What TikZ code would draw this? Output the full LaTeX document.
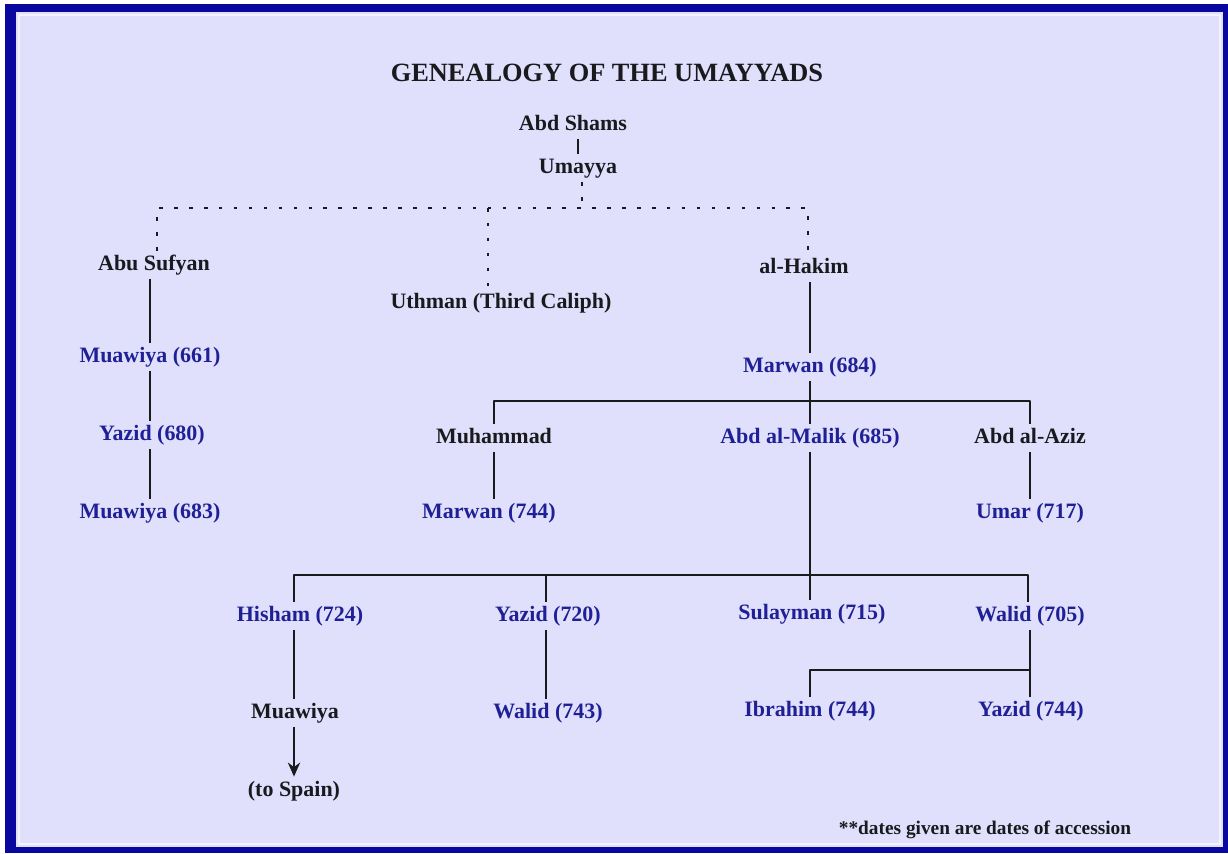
\documentclass[tikz,border=0pt]{standalone}
\usepackage{fontspec}
\setmainfont{Liberation Serif}
\usepackage{xcolor}
\usetikzlibrary{arrows.meta}

\definecolor{frameblue}{RGB}{8,8,158}
\definecolor{lavender}{RGB}{224,224,252}
\definecolor{kingblue}{RGB}{32,32,150}
\definecolor{inkgray}{RGB}{25,25,30}

\begin{document}
\begin{tikzpicture}[x=0.02cm, y=-0.02cm, line join=round,
  person/.style={font=\bfseries\fontsize{12.5}{14}\selectfont, text=inkgray,
    inner sep=2pt, text height=9pt, text depth=3pt},
  caliph/.style={person, text=kingblue},
  tie/.style={inkgray, line width=1pt},
  loosetie/.style={inkgray, line width=1.1pt, dash pattern=on 2pt off 6.5pt}]
% Frame and background
\fill[white] (0,0) rectangle (1228,853);
\fill[frameblue] (5,4) rectangle (1228,853);
\fill[lavender] (16,12) rectangle (1223,847);
\draw[white!60!lavender, line width=1.5pt] (19,15) rectangle (1220,844);
\useasboundingbox (0,0) rectangle (1228,853);
% Title
\node[font=\bfseries\fontsize{15}{18}\selectfont, text=inkgray] (title) at (607,73) {GENEALOGY OF THE UMAYYADS};
% Ancestors
\node[person] (abdshams) at (573,125) {Abd Shams};
\node[person] (umayya) at (578,168) {Umayya};
\draw[tie] (abdshams.south -| umayya) -- (umayya.north);
% Dotted branch points
\coordinate (dotL) at (157,208);
\coordinate (dotC) at (582,208);
\coordinate (dotM) at (488,208);
\coordinate (dotR) at (808,208);
% Sons of Umayya
\node[person] (abusufyan) at (154,265) {Abu Sufyan};
\node[person] (uthman) at (501,303) {Uthman (Third Caliph)};
\node[person] (alhakim) at (804,268) {al-Hakim};
\draw[loosetie] (umayya.south -| dotC) -- (dotC);
\draw[loosetie] (dotL |- abusufyan.north) -- (dotL) -- (dotR) -- (dotR |- alhakim.north);
\draw[loosetie] (dotM) -- (dotM |- uthman.north);
% Sufyanid line
\node[caliph] (muawiyaA) at (150,357) {Muawiya (661)};
\node[caliph] (yazidA) at (152,435) {Yazid (680)};
\node[caliph] (muawiyaB) at (150,513) {Muawiya (683)};
\draw[tie] (abusufyan.south -| muawiyaA) -- (muawiyaA.north);
\draw[tie] (muawiyaA.south) -- (muawiyaA.south |- yazidA.north);
\draw[tie] (muawiyaA.south |- yazidA.south) -- (muawiyaA.south |- muawiyaB.north);
% Marwanid line
\node[caliph] (marwanA) at (810,367) {Marwan (684)};
\draw[tie] (alhakim.south -| marwanA) -- (marwanA.north);
\node[person] (muhammad) at (494,438) {Muhammad};
\node[caliph] (abdalmalik) at (810,438) {Abd al-Malik (685)};
\node[person] (abdalaziz) at (1030,438) {Abd al-Aziz};
\coordinate (barB) at (810,401);
\draw[tie] (marwanA.south) -- (abdalmalik.north);
\draw[tie] (muhammad.north) |- (barB) -| (abdalaziz.north);
\node[caliph] (marwanB) at (489,513) {Marwan (744)};
\node[caliph] (umar) at (1030,513) {Umar (717)};
\draw[tie] (muhammad.south) -- (muhammad.south |- marwanB.north);
\draw[tie] (abdalaziz.south) -- (umar.north);
% Sons of Abd al-Malik
\node[caliph] (hisham) at (300,616) {Hisham (724)};
\node[caliph] (yazidB) at (548,616) {Yazid (720)};
\node[caliph] (sulayman) at (812,614) {Sulayman (715)};
\node[caliph] (walidA) at (1030,616) {Walid (705)};
\coordinate (barC) at (810,575);
\coordinate (hishamtop) at (294,575);
\coordinate (yazidtop) at (546,575);
\coordinate (walidtop) at (1028,575);
\draw[tie] (abdalmalik.south) -- (barC |- sulayman.north);
\draw[tie] (hishamtop |- hisham.north) -- (hishamtop) -- (walidtop) -- (walidtop |- walidA.north);
\draw[tie] (yazidtop) -- (yazidtop |- yazidB.north);
% Grandsons
\node[person] (muawiyaC) at (295,713) {Muawiya};
\node[person] (tospain) at (294,791) {(to Spain)};
\node[caliph] (walidB) at (548,713) {Walid (743)};
\node[caliph] (ibrahim) at (810,711) {Ibrahim (744)};
\node[caliph] (yazidC) at (1031,711) {Yazid (744)};
\draw[tie] (hishamtop |- hisham.south) -- (hishamtop |- muawiyaC.north);
\draw[tie, -{Stealth[length=8pt, width=7pt]}] (muawiyaC.south -| tospain) -- (tospain.north);
\draw[tie] (yazidtop |- yazidB.south) -- (yazidtop |- walidB.north);
\coordinate (barD) at (1030,670);
\draw[tie] (walidA.south) -- (barD);
\draw[tie] (ibrahim.north) |- (barD) -- (barD |- yazidC.north);
% Note
\node[font=\bfseries\fontsize{11}{13}\selectfont, text=inkgray] (note) at (985,830) {**dates given are dates of accession};
\end{tikzpicture}
\end{document}
